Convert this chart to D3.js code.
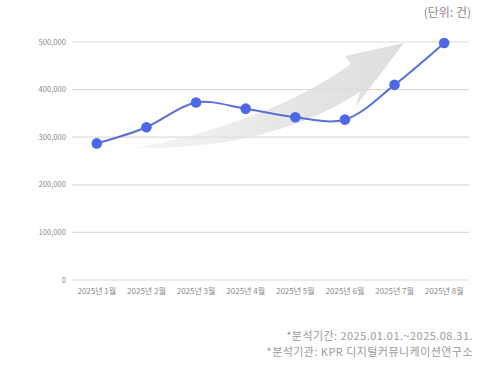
<!DOCTYPE html>
<html>
<head>
<meta charset="utf-8">
<script src="https://cdn.jsdelivr.net/npm/d3@7"></script>
<style>
  html, body { margin: 0; padding: 0; background: #fff; }
  svg { display: block; font-family: "Noto Sans CJK KR", "Noto Sans", sans-serif; }
</style>
</head>
<body>
<svg id="chart" width="500" height="366"></svg>
<script>
// Monthly counts, Jan–Aug 2025
const months = ["2025년 1월", "2025년 2월", "2025년 3월", "2025년 4월",
                "2025년 5월", "2025년 6월", "2025년 7월", "2025년 8월"];
const counts = [287000, 321000, 373000, 360000, 342000, 337000, 410000, 498000];
const yTicks = [0, 100000, 200000, 300000, 400000, 500000];
const unitLabel = "(단위: 건)";
const notes = ["*분석기간: 2025.01.01.~2025.08.31.",
               "*분석기관: KPR 디지털커뮤니케이션연구소"];

const svg = d3.select("#chart");
const plotLeft = 72, plotRight = 469, plotTop = 42, plotBottom = 280;

const x = d3.scaleBand().domain(months).range([plotLeft, plotRight]);
const y = d3.scaleLinear().domain([0, 500000]).range([plotBottom, plotTop]);

// horizontal gridlines + y labels
const yAxis = svg.append("g");
yAxis.selectAll("line").data(yTicks).join("line")
  .attr("x1", plotLeft).attr("x2", plotRight)
  .attr("y1", d => y(d)).attr("y2", d => y(d))
  .attr("stroke", "#dcdcdc").attr("stroke-width", 1.2);
yAxis.selectAll("text").data(yTicks).join("text")
  .attr("x", 66).attr("y", d => y(d)).attr("dy", "0.35em")
  .attr("text-anchor", "end").attr("font-size", 7.6).attr("fill", "#8a8a8a")
  .text(d => d3.format(",")(d));

// x labels
svg.append("g").selectAll("text").data(months).join("text")
  .attr("x", d => x(d) + x.bandwidth() / 2).attr("y", 294)
  .attr("text-anchor", "middle").attr("font-size", 8).attr("fill", "#8a8a8a")
  .text(d => d);

// rising trend arrow behind the line
const defs = svg.append("defs");
const grad = defs.append("linearGradient").attr("id", "arrowFade")
  .attr("x1", "0%").attr("x2", "100%").attr("y1", "0%").attr("y2", "0%");
grad.append("stop").attr("offset", "0%").attr("stop-color", "#e8e8e8").attr("stop-opacity", 0.45);
grad.append("stop").attr("offset", "60%").attr("stop-color", "#dedede").attr("stop-opacity", 0.8);
grad.append("stop").attr("offset", "100%").attr("stop-color", "#d8d8d8").attr("stop-opacity", 0.85);

const arrow = d3.path();
arrow.moveTo(135, 148);
arrow.quadraticCurveTo(270, 122, 351, 64);   // upper body edge
arrow.lineTo(345, 56);                        // left barb
arrow.lineTo(404, 43);                        // tip
arrow.lineTo(356, 106);                       // right head edge
arrow.lineTo(360, 92);
arrow.quadraticCurveTo(270, 150, 135, 148);   // lower body edge
arrow.closePath();
svg.append("path").attr("d", arrow.toString()).attr("fill", "url(#arrowFade)");

// data line
const cx = (d, i) => x(months[i]) + x.bandwidth() / 2;
const line = d3.line().x(cx).y(d => y(d)).curve(d3.curveCatmullRom.alpha(0.5));
svg.append("path").datum(counts).attr("d", line)
  .attr("fill", "none").attr("stroke", "#5a6fd8").attr("stroke-width", 2);

svg.append("g").selectAll("circle").data(counts).join("circle")
  .attr("cx", cx).attr("cy", d => y(d)).attr("r", 5.3)
  .attr("fill", "#4d68e6");

// unit label
svg.append("text").attr("x", 471).attr("y", 17)
  .attr("text-anchor", "end").attr("font-size", 12).attr("fill", "#8a8a8a")
  .text(unitLabel);

// notes
svg.append("g").selectAll("text").data(notes).join("text")
  .attr("x", 473).attr("y", (d, i) => 340 + i * 16)
  .attr("text-anchor", "end").attr("font-size", 11).attr("letter-spacing", 0.45)
  .attr("fill", "#9a9a9a")
  .text(d => d);
</script>
</body>
</html>
